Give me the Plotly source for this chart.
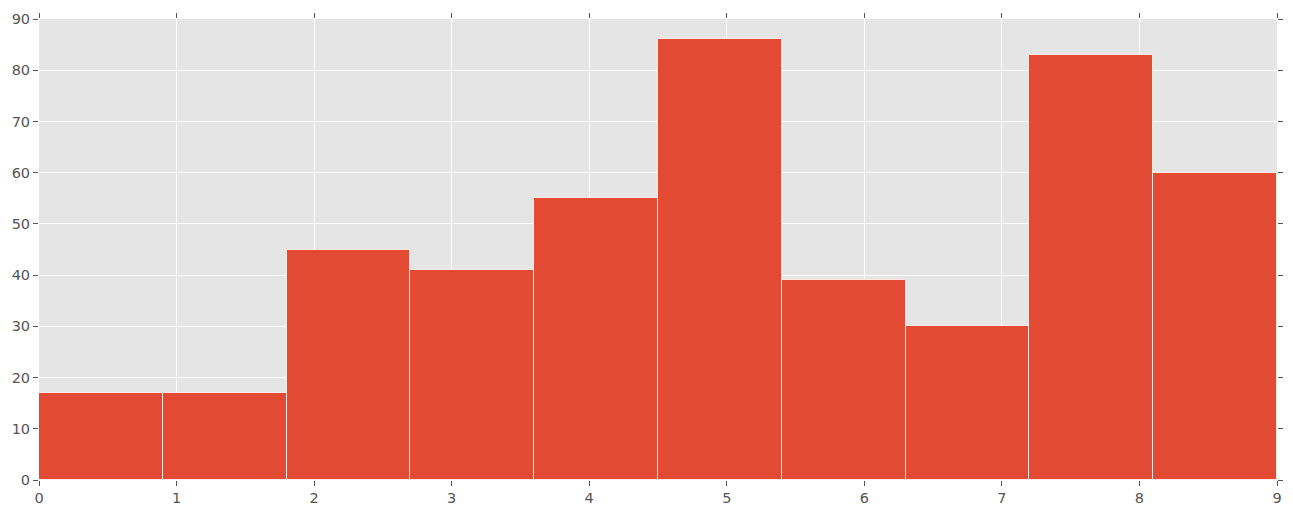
import plotly.graph_objects as go

bin_edges = [0.0, 0.9, 1.8, 2.7, 3.6, 4.5, 5.4, 6.3, 7.2, 8.1, 9.0]
counts = [17, 17, 45, 41, 55, 86, 39, 30, 83, 60]
x_ticks = [0, 1, 2, 3, 4, 5, 6, 7, 8, 9]
y_ticks = [0, 10, 20, 30, 40, 50, 60, 70, 80, 90]

lefts = bin_edges[:-1]
widths = [b - a for a, b in zip(bin_edges[:-1], bin_edges[1:])]

fig = go.Figure(go.Bar(
    x=lefts, y=counts, width=widths, offset=0,
    marker=dict(color="#E24A33", line=dict(color="rgba(255,240,235,0.9)", width=1)),
    hoverinfo="skip",
))

axis_common = dict(
    showgrid=True, gridcolor="white", gridwidth=1, zeroline=False,
    showline=False, ticks="outside", ticklen=5, tickwidth=1, tickcolor="#555555",
    mirror="ticks", tickfont=dict(family="DejaVu Sans", size=14.5, color="#555555"),
)

fig.update_layout(
    width=1293, height=517,
    margin=dict(l=39, r=11, t=17, b=32),
    plot_bgcolor="#E5E5E5", paper_bgcolor="white",
    showlegend=False, bargap=0,
    xaxis=dict(range=[0, 9], tickvals=x_ticks, ticktext=[str(v) for v in x_ticks], **axis_common),
    yaxis=dict(range=[0, 90], tickvals=y_ticks, ticktext=[str(v) for v in y_ticks], **axis_common),
)

fig.write_html(
    "out.html",
    config={"displayModeBar": False},
    post_script="document.body.style.margin='0';document.body.style.overflow='hidden';",
)
